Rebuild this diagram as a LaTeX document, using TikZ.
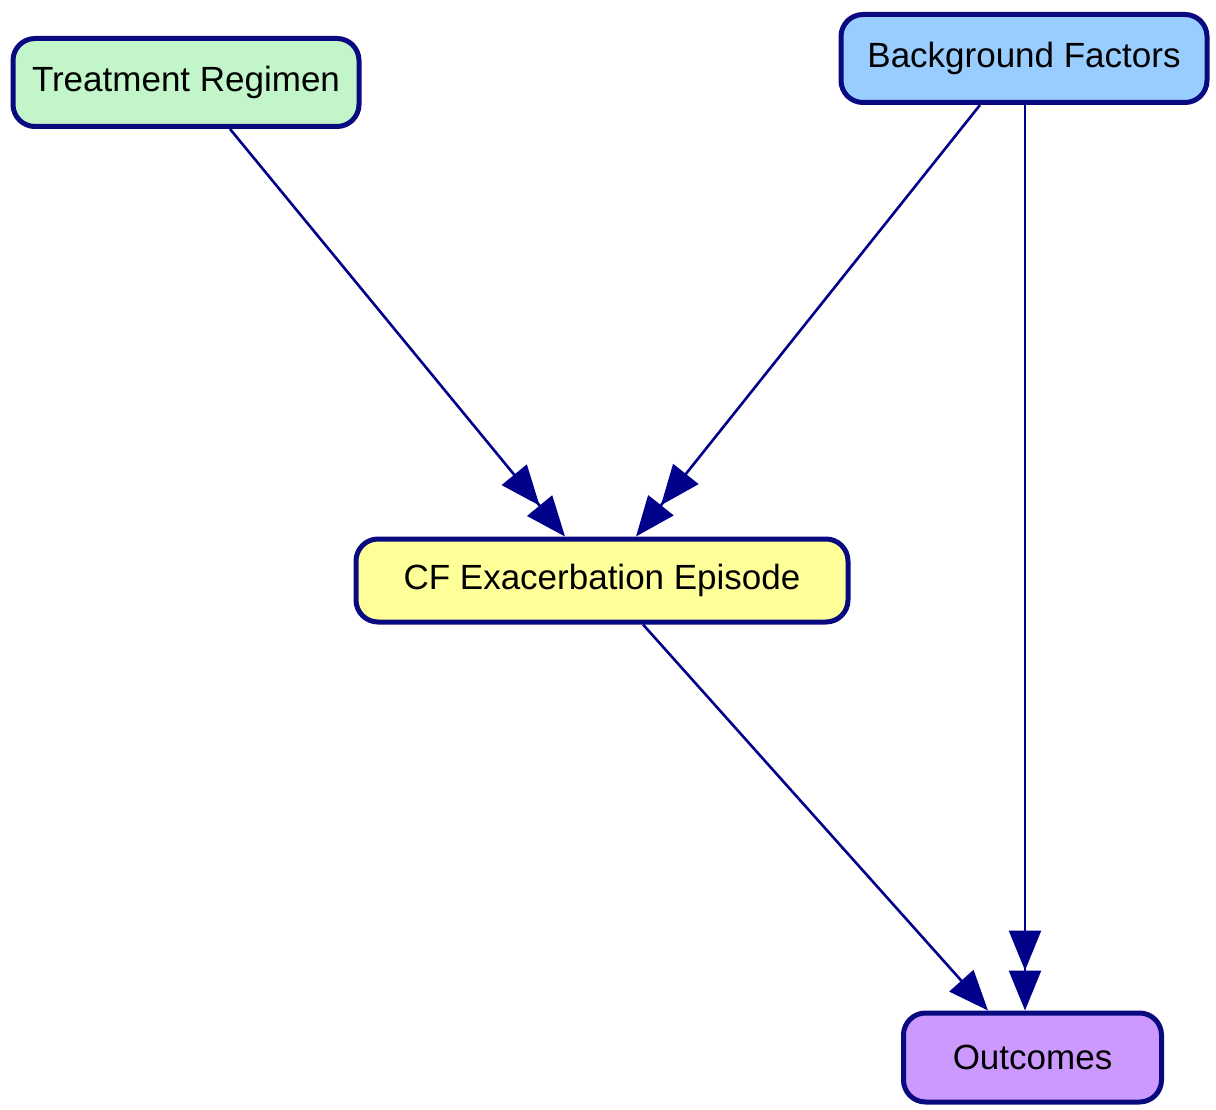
\documentclass[tikz,border=0pt]{standalone}
\usepackage{fontspec}
\setmainfont{Liberation Sans}
\usetikzlibrary{arrows.meta,calc}
\definecolor{edgeblue}{HTML}{00008B}
\definecolor{rimblue}{HTML}{0A0A80}
\definecolor{fillgreen}{HTML}{C2F6CA}
\definecolor{fillblue}{HTML}{99CCFF}
\definecolor{fillyellow}{HTML}{FFFF99}
\definecolor{fillpurple}{HTML}{CC99FF}
\tikzset{
  box/.style={draw=rimblue, line width=5pt, rounded corners=22pt,
    inner sep=0pt, font=\fontsize{35pt}{40pt}\selectfont, text=black},
  link/.style={draw=edgeblue, line width=2.6pt},
  single/.style={link, -{Triangle[length=40pt,width=32pt]}},
  double/.style={link, -{Triangle[length=40pt,width=32pt] Triangle[length=40pt,width=32pt]}}
}
\begin{document}
\begin{tikzpicture}[x=1pt,y=-1pt]
  \useasboundingbox[fill=white] (0,0) rectangle (1216,1110);

  \node[box, fill=fillgreen, minimum width=346pt, minimum height=88pt] (tr) at (186,82.5) {Treatment Regimen};
  \node[box, fill=fillblue, minimum width=366pt, minimum height=88pt] (bg) at (1024,58.5) {Background Factors};
  \node[box, fill=fillyellow, minimum width=492pt, minimum height=83pt] (cf) at (602,580.5) {CF Exacerbation Episode};
  \node[box, fill=fillpurple, minimum width=258pt, minimum height=89pt] (out) at (1032.5,1057.5) {Outcomes};

  \draw[double] ($(tr.south)+(44,0)$) -- ($(cf.north)+(-37,0)$);
  \draw[double] ($(bg.south)+(-44,0)$) -- ($(cf.north)+(34,0)$);
  \draw[double] ($(bg.south)+(1,0)$) -- ($(out.north)+(-7.5,0)$);
  \draw[single] ($(cf.south)+(41,0)$) -- ($(out.north)+(-44.5,0)$);
\end{tikzpicture}
\end{document}
